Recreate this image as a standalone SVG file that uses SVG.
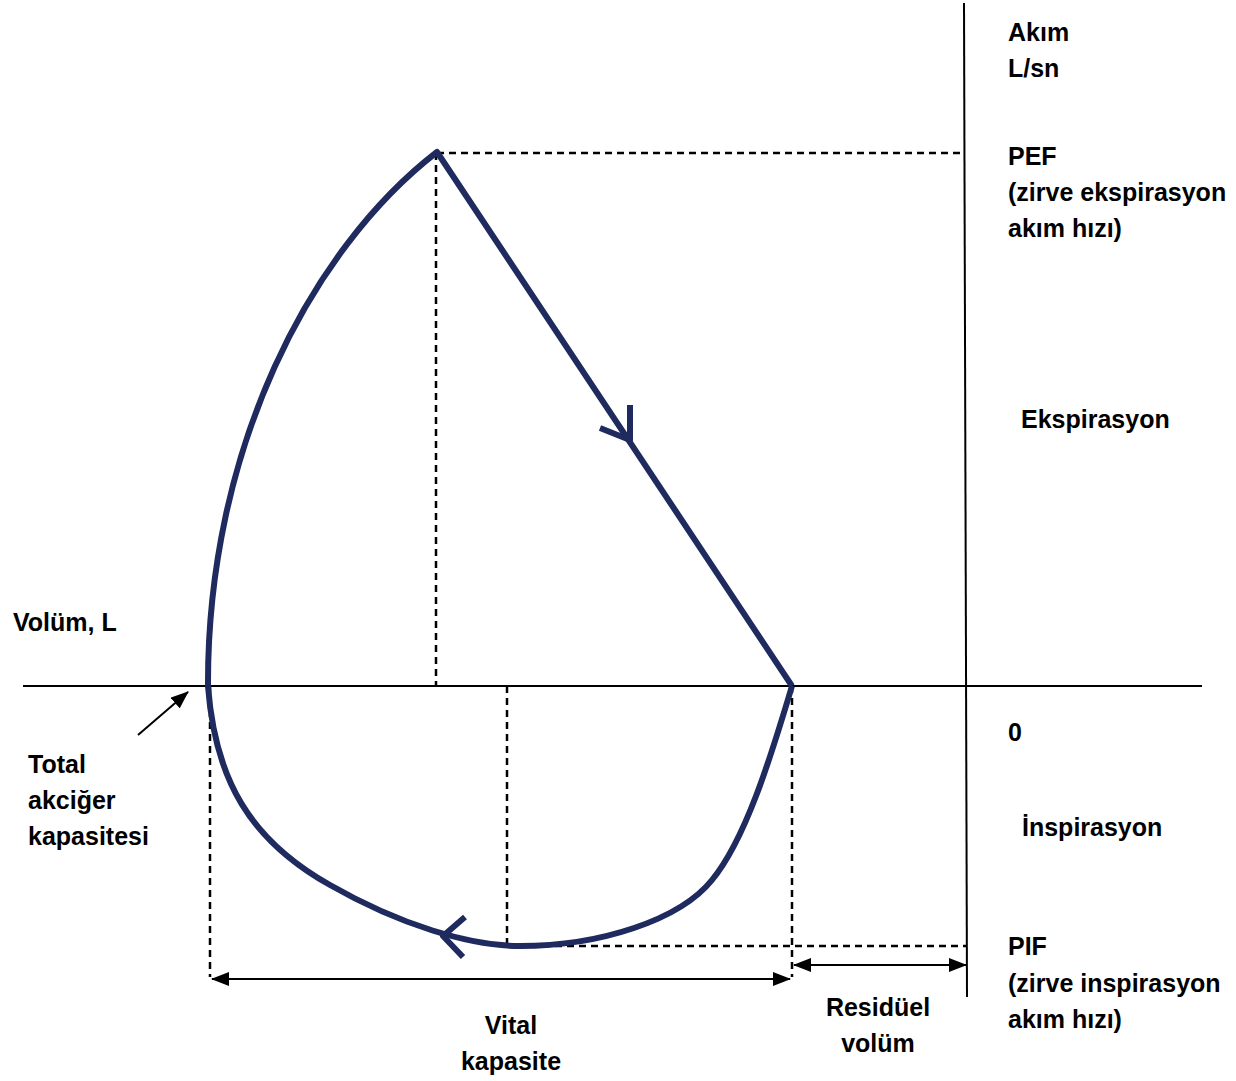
<svg xmlns="http://www.w3.org/2000/svg" width="1236" height="1081" viewBox="0 0 1236 1081">
<defs>
<marker id="ah" markerWidth="18" markerHeight="14" refX="17" refY="7" orient="auto-start-reverse" markerUnits="userSpaceOnUse" viewBox="0 0 18 14"><path d="M0,0 L18,7 L0,14 z" fill="#000"/></marker>
<style>
.t{font-family:"Liberation Sans",Arial,sans-serif;font-weight:bold;font-size:25px;fill:#000}
.c{text-anchor:middle}
.ax{stroke:#000;stroke-width:2;fill:none}
.d{stroke:#000;stroke-width:2.5;stroke-dasharray:7,5;fill:none}
.cv{stroke:#1f2a5e;stroke-width:6;fill:none;stroke-linejoin:round;stroke-linecap:butt}
.ar{stroke:#000;stroke-width:2;fill:none}
</style>
</defs>
<rect width="1236" height="1081" fill="#fff"/>
<g id="axes">
<line class="ax" x1="23" y1="686" x2="1202" y2="686"/>
<line class="ax" x1="964" y1="3" x2="967" y2="997"/>
</g>
<g id="guides">
<line class="d" x1="437" y1="153" x2="965" y2="153"/>
<line class="d" x1="436" y1="153" x2="436" y2="686"/>
<line class="d" x1="507" y1="686" x2="507" y2="946"/>
<line class="d" x1="507" y1="946" x2="967" y2="946"/>
<line class="d" x1="210" y1="686" x2="210" y2="977"/>
<line class="d" x1="792" y1="686" x2="792" y2="977"/>
</g>
<g id="loop">
<path class="cv" d="M208,686 C207,450 310,250 437,152 L792,686"/>
<path class="cv" d="M208,686 C215,780 250,840 330,885 C400,925 470,946 520,946 C600,946 680,920 712,880 C745,840 770,760 792,686"/>
<path class="cv" d="M630,405 L630,440 L600,428"/>
<path class="cv" d="M465,917 L443,936 L463,957"/>
</g>
<g id="connectors">
<line class="ar" x1="212" y1="979" x2="790" y2="979" marker-start="url(#ah)" marker-end="url(#ah)"/>
<line class="ar" x1="794" y1="965" x2="966" y2="965" marker-start="url(#ah)" marker-end="url(#ah)"/>
<line class="ar" x1="138" y1="735" x2="188" y2="692" marker-end="url(#ah)"/>
</g>
<g id="labels">
<text class="t" x="1008" y="41">Akım</text>
<text class="t" x="1008" y="77">L/sn</text>
<text class="t" x="1008" y="165">PEF</text>
<text class="t" x="1008" y="201">(zirve ekspirasyon</text>
<text class="t" x="1008" y="237">akım hızı)</text>
<text class="t" x="1021" y="428">Ekspirasyon</text>
<text class="t" x="13" y="631">Volüm, L</text>
<text class="t" x="1008" y="741">0</text>
<text class="t" x="28" y="773">Total</text>
<text class="t" x="28" y="809">akciğer</text>
<text class="t" x="28" y="845">kapasitesi</text>
<text class="t" x="1022" y="836">İnspirasyon</text>
<text class="t" x="1008" y="955">PIF</text>
<text class="t" x="1008" y="992">(zirve inspirasyon</text>
<text class="t" x="1008" y="1028">akım hızı)</text>
<text class="t c" x="878" y="1016">Residüel</text>
<text class="t c" x="878" y="1052">volüm</text>
<text class="t c" x="511" y="1034">Vital</text>
<text class="t c" x="511" y="1070">kapasite</text>
</g>
</svg>
